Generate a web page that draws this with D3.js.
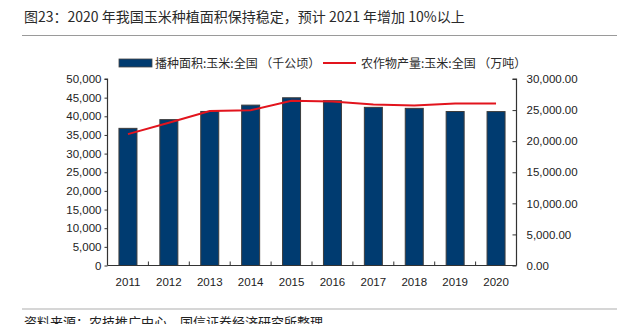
<!DOCTYPE html>
<html>
<head>
<meta charset="utf-8">
<script src="https://cdn.jsdelivr.net/npm/d3@7/dist/d3.min.js"></script>
<style>
  html, body { margin: 0; padding: 0; background: #fff; }
  svg { display: block; }
  text { font-family: "Liberation Sans", Arial, sans-serif; }
  .cjk { font-family: "Noto Sans CJK SC", "Liberation Sans", sans-serif; }
</style>
</head>
<body>
<script>
// Corn sown area (thousand ha) and corn output (10k tonnes), China 2011-2020
const years = ["2011", "2012", "2013", "2014", "2015", "2016", "2017", "2018", "2019", "2020"];
const sownArea = [36767, 39109, 41299, 42997, 44968, 44178, 42399, 42130, 41284, 41264];
const output = [21131.6, 22955.9, 24845.3, 24976.4, 26499.2, 26361.3, 25907.1, 25717.4, 26077.9, 26066.5];
const leftTicks = [0, 5000, 10000, 15000, 20000, 25000, 30000, 35000, 40000, 45000, 50000];
const rightTicks = [0, 5000, 10000, 15000, 20000, 25000, 30000];

const titleText = "图23：2020 年我国玉米种植面积保持稳定，预计 2021 年增加 10%以上";
const areaLabel = "播种面积:玉米:全国 （千公顷）";
const outputLabel = "农作物产量:玉米:全国 （万吨）";
const sourceText = "资料来源：农技推广中心，国信证券经济研究所整理";

const W = 617, H = 324;
const svg = d3.select("body").append("svg").attr("width", W).attr("height", H);

const plotL = 107.5, plotR = 516.5, plotT = 79, plotB = 265.5;

const x = d3.scaleBand().domain(years).range([plotL, plotR]).paddingInner(0.56).paddingOuter(0.28);
const yL = d3.scaleLinear().domain([0, 50000]).range([plotB, plotT]);
const yR = d3.scaleLinear().domain([0, 30000]).range([plotB, plotT]);

// Title and rule
svg.append("text").attr("class", "cjk").attr("x", 24).attr("y", 22)
  .attr("font-size", 14).attr("fill", "#2a2a2a").text(titleText);
svg.append("line").attr("x1", 22).attr("x2", W).attr("y1", 35.5).attr("y2", 35.5)
  .attr("stroke", "#9a9a9a").attr("stroke-width", 1.2);

// Legend
const lg = svg.append("g");
lg.append("rect").attr("x", 119).attr("y", 59).attr("width", 33).attr("height", 8)
  .attr("fill", "#003b70").attr("stroke", "#444").attr("stroke-width", 0.8);
lg.append("text").attr("class", "cjk").attr("x", 155).attr("y", 67.5)
  .attr("font-size", 12).attr("fill", "#2a2a2a").text(areaLabel);
lg.append("line").attr("x1", 323).attr("x2", 356).attr("y1", 63).attr("y2", 63)
  .attr("stroke", "#e2141d").attr("stroke-width", 2);
lg.append("text").attr("class", "cjk").attr("x", 361).attr("y", 67.5)
  .attr("font-size", 12).attr("fill", "#2a2a2a").text(outputLabel);

// Bars
svg.append("g").selectAll("rect").data(years).join("rect")
  .attr("x", d => x(d))
  .attr("width", x.bandwidth())
  .attr("y", (d, i) => yL(sownArea[i]))
  .attr("height", (d, i) => plotB - yL(sownArea[i]))
  .attr("fill", "#003b70")
  .attr("stroke", "#3c3c3c")
  .attr("stroke-width", 1);

// Output line
const line = d3.line()
  .x((d, i) => x(years[i]) + x.bandwidth() / 2)
  .y(d => yR(d));
svg.append("path").datum(output).attr("d", line)
  .attr("fill", "none").attr("stroke", "#e2141d").attr("stroke-width", 2);

// Left axis
const axL = svg.append("g").attr("transform", `translate(${plotL},0)`)
  .call(d3.axisLeft(yL).tickValues(leftTicks).tickSize(3).tickPadding(3)
    .tickFormat(d3.format(",")));
// Right axis
const axR = svg.append("g").attr("transform", `translate(${plotR},0)`)
  .call(d3.axisRight(yR).tickValues(rightTicks).tickSize(-4).tickPadding(10)
    .tickFormat(d3.format(",.2f")));
// Bottom axis: category labels, separators between bands
const axB = svg.append("g").attr("transform", `translate(0,${plotB})`)
  .call(d3.axisBottom(x).tickSize(0).tickPadding(12));
const step = x.step();
axB.selectAll(".sep").data(years.slice(1)).join("line")
  .attr("class", "sep")
  .attr("x1", d => x(d) - step * x.paddingInner() / 2)
  .attr("x2", d => x(d) - step * x.paddingInner() / 2)
  .attr("y1", 0).attr("y2", -4)
  .attr("stroke", "#333");

[axL, axR, axB].forEach(g => {
  g.selectAll(".domain").attr("stroke", "#333").attr("stroke-width", 1.2);
  g.selectAll(".tick line").attr("stroke", "#333");
  g.selectAll("text").attr("font-size", 11.5).attr("fill", "#222")
    .attr("font-family", "'Liberation Sans', Arial, sans-serif");
});
axL.select(".domain").attr("d", `M-3,${plotT}H0V${plotB}`);
axR.select(".domain").attr("d", `M-4,${plotT}H0V${plotB}`);
axB.select(".domain").attr("d", `M${plotL},0H${plotR}`);

// Footer
svg.append("line").attr("x1", 22).attr("x2", W).attr("y1", 309).attr("y2", 309)
  .attr("stroke", "#c8c8c8").attr("stroke-width", 1.5);
svg.append("text").attr("class", "cjk").attr("x", 24).attr("y", 327)
  .attr("font-size", 13).attr("fill", "#222").text(sourceText);
</script>
</body>
</html>
